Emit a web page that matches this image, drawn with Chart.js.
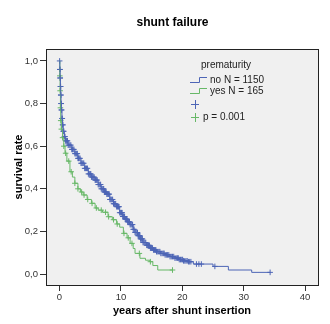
<!DOCTYPE html>
<html>
<head>
<meta charset="utf-8">
<script src="https://cdn.jsdelivr.net/npm/chart.js@4/dist/chart.umd.min.js"></script>
<style>
  body { margin: 0; background: #fff; }
  #wrap { width: 330px; height: 324px; }
</style>
</head>
<body>
<div id="wrap"><canvas id="km" width="330" height="324"></canvas></div>
<script>
// data

let noTimes = [0, 0.05, 0.1, 0.15, 0.2, 0.25, 0.3, 0.4, 0.5, 0.6, 0.8, 1.0, 1.4, 2.0, 2.5, 3.0, 3.5, 4.1, 4.7, 5.2, 5.8, 6.3, 6.8, 7.3, 7.7, 8.2, 8.8, 9.3, 9.8, 10.3, 10.7, 11.1, 11.5, 12.0, 12.3, 12.8, 13.2, 13.6, 14.2, 14.8, 15.3, 15.8, 16.5, 17.2, 18.0, 18.8, 19.5, 20.2, 21.0, 21.8, 25.0, 27.5, 31.3, 34.3];
let noSurvival = [1.0, 0.96, 0.92, 0.88, 0.84, 0.80, 0.77, 0.73, 0.70, 0.67, 0.645, 0.625, 0.605, 0.585, 0.565, 0.543, 0.52, 0.496, 0.47, 0.455, 0.441, 0.42, 0.40, 0.385, 0.375, 0.35, 0.33, 0.316, 0.288, 0.27, 0.258, 0.245, 0.232, 0.21, 0.195, 0.18, 0.165, 0.148, 0.135, 0.122, 0.113, 0.105, 0.097, 0.09, 0.082, 0.075, 0.068, 0.062, 0.058, 0.047, 0.036, 0.019, 0.008, 0.008];

let yesTimes = [0, 0.05, 0.1, 0.15, 0.2, 0.3, 0.5, 0.7, 0.9, 1.2, 1.7, 2.1, 2.5, 3.0, 3.4, 3.85, 4.5, 5.2, 5.8, 6.3, 7.0, 7.9, 8.6, 9.3, 9.8, 10.4, 11.0, 11.5, 12.0, 12.3, 13.1, 14.0, 14.7, 15.2, 16.0, 18.4];
let yesSurvival = [1.0, 0.93, 0.86, 0.78, 0.72, 0.68, 0.64, 0.60, 0.567, 0.53, 0.48, 0.455, 0.426, 0.40, 0.385, 0.371, 0.35, 0.332, 0.31, 0.30, 0.29, 0.269, 0.255, 0.235, 0.22, 0.191, 0.17, 0.144, 0.12, 0.097, 0.074, 0.065, 0.058, 0.04, 0.019, 0.019];

// censored times (the + marks)
let noCensored = [0.02, 0.05, 0.08, 0.1, 0.12, 0.15, 0.18, 0.2, 0.22, 0.25, 0.28, 0.3, 0.35, 0.4, 0.45, 0.5, 0.55, 0.6, 0.7, 0.8, 0.9, 1.0, 1.1, 1.2, 1.3, 1.4, 1.55, 1.7, 1.85, 2.0, 2.1, 2.2, 2.35, 2.5, 2.65, 2.8, 2.9, 3.0, 3.1, 3.2, 3.35, 3.5, 3.65, 3.8, 3.95, 4.1, 4.25, 4.4, 4.55, 4.7, 4.85, 5.0, 5.1, 5.2, 5.35, 5.5, 5.65, 5.8, 5.9, 6.0, 6.15, 6.3, 6.45, 6.6, 6.7, 6.8, 6.95, 7.1, 7.2, 7.3, 7.4, 7.5, 7.6, 7.7, 7.85, 8.0, 8.1, 8.2, 8.35, 8.5, 8.65, 8.8, 8.9, 9.0, 9.15, 9.3, 9.45, 9.6, 9.7, 9.8, 9.95, 10.1, 10.2, 10.3, 10.4, 10.5, 10.6, 10.7, 10.8, 10.9, 11.0, 11.1, 11.2, 11.3, 11.4, 11.5, 11.65, 11.8, 11.9, 12.0, 12.15, 12.3, 12.45, 12.6, 12.7, 12.8, 12.9, 13.0, 13.1, 13.2, 13.3, 13.4, 13.5, 13.6, 13.75, 13.9, 14.05, 14.2, 14.35, 14.5, 14.65, 14.8, 14.9, 15.0, 15.15, 15.3, 15.45, 15.6, 15.7, 15.8, 16.0, 16.2, 16.35, 16.5, 16.7, 16.9, 17.05, 17.2, 17.4, 17.6, 17.8, 18.0, 18.2, 18.4, 18.6, 18.8, 19.0, 19.2, 19.35, 19.5, 19.7, 19.9, 20.05, 20.2, 20.4, 20.6, 20.8, 21.0, 21.2, 21.4, 22.3, 22.7, 23.1, 25.3, 34.3];
let yesCensored = [0.05, 0.1, 0.15, 0.2, 0.3, 0.5, 0.7, 1.0, 1.5, 1.9, 2.5, 3.0, 3.6, 4.0, 4.6, 5.3, 6.0, 6.8, 7.5, 8.0, 8.8, 9.4, 10.5, 11.2, 11.8, 13.0, 14.8, 18.4];

let xTicks = [0, 10, 20, 30, 40];
let yTicks = [0, 0.2, 0.4, 0.6, 0.8, 1.0];

let blue = '#4d65b6';
let green = '#67b867';
let font = 'Arial, "Liberation Sans", sans-serif';

function toPoints(times, vals) {
  return times.map((t, i) => ({ x: t, y: vals[i] }));
}

// value of the step curve at time t
function survivalAt(times, vals, t) {
  let s = vals[0];
  for (let i = 0; i < times.length; i++) {
    if (times[i] <= t) s = vals[i];
  }
  return s;
}

function censorPoints(cens, times, vals) {
  return cens.map(t => ({ x: t, y: survivalAt(times, vals, t) }));
}

// plot background, frame, titles and the legend
const decorPlugin = {
  id: 'decor',
  beforeDraw(chart) {
    let c = chart.ctx;
    let a = chart.chartArea;
    c.save();
    c.fillStyle = '#f0f0f0';
    c.fillRect(a.left, a.top, a.right - a.left, a.bottom - a.top);
    c.restore();
  },
  afterDraw(chart) {
    let c = chart.ctx;
    let a = chart.chartArea;
    c.save();
    c.strokeStyle = '#222';
    c.lineWidth = 1;
    c.strokeRect(a.left + 0.5, a.top + 0.5, a.right - a.left - 1, a.bottom - a.top - 1);

    c.fillStyle = '#000';
    c.textAlign = 'center';
    c.textBaseline = 'middle';
    c.font = 'bold 12px ' + font;
    c.fillText('shunt failure', 172.5, 23);
    c.font = 'bold 11px ' + font;
    c.fillText('years after shunt insertion', 182, 311);
    c.save();
    c.translate(19, 167);
    c.rotate(-Math.PI / 2);
    c.fillText('survival rate', 0, 0);
    c.restore();

    // legend
    c.font = '10px ' + font;
    c.fillStyle = '#222';
    c.textAlign = 'left';
    c.fillText('prematurity', 201, 65);
    c.fillText('no N = 1150', 210, 80);
    c.fillText('yes N = 165', 210, 91);
    c.fillText('p = 0.001', 203, 117);

    c.lineWidth = 1;
    c.strokeStyle = blue;
    c.beginPath();
    c.moveTo(190, 82.5); c.lineTo(199.5, 82.5); c.lineTo(199.5, 77.5); c.lineTo(207, 77.5);
    c.stroke();
    c.strokeStyle = green;
    c.beginPath();
    c.moveTo(190, 93.5); c.lineTo(199.5, 93.5); c.lineTo(199.5, 88.5); c.lineTo(207, 88.5);
    c.stroke();

    c.strokeStyle = blue;
    c.beginPath();
    c.moveTo(191, 104.5); c.lineTo(199, 104.5); c.moveTo(195.5, 100); c.lineTo(195.5, 109);
    c.stroke();
    c.strokeStyle = green;
    c.beginPath();
    c.moveTo(191, 117.5); c.lineTo(199, 117.5); c.moveTo(195.5, 113); c.lineTo(195.5, 122);
    c.stroke();
    c.restore();
  }
};

let ctx = document.getElementById('km');

new Chart(ctx, {
  type: 'line',
  data: {
    datasets: [
      {
        data: toPoints(noTimes, noSurvival),
        borderColor: blue,
        borderWidth: 1,
        stepped: 'before',
        pointRadius: 0,
        fill: false
      },
      {
        data: toPoints(yesTimes, yesSurvival),
        borderColor: green,
        borderWidth: 1,
        stepped: 'before',
        pointRadius: 0,
        fill: false
      },
      {
        type: 'scatter',
        data: censorPoints(noCensored, noTimes, noSurvival),
        borderColor: blue,
        backgroundColor: blue,
        pointStyle: 'cross',
        pointRadius: 2.8,
        borderWidth: 1,
        showLine: false
      },
      {
        type: 'scatter',
        data: censorPoints(yesCensored, yesTimes, yesSurvival),
        borderColor: green,
        backgroundColor: green,
        pointStyle: 'cross',
        pointRadius: 2.8,
        borderWidth: 1,
        showLine: false
      }
    ]
  },
  options: {
    responsive: false,
    animation: false,
    layout: { padding: { top: 49, right: 11, left: 0, bottom: 0 } },
    plugins: {
      legend: { display: false },
      tooltip: { enabled: false }
    },
    scales: {
      x: {
        type: 'linear',
        min: -2.2,
        max: 42.26,
        afterBuildTicks: s => { s.ticks = xTicks.map(v => ({ value: v })); },
        afterFit: s => { s.height = 38; },
        ticks: { font: { size: 9.5, family: font }, color: '#333', padding: 1 },
        grid: { drawOnChartArea: false, tickLength: 5, color: '#333' },
        border: { display: false }
      },
      y: {
        type: 'linear',
        min: -0.056,
        max: 1.056,
        afterBuildTicks: s => { s.ticks = yTicks.map(v => ({ value: v })); },
        afterFit: s => { s.width = 46; },
        ticks: {
          font: { size: 9.5, family: font },
          color: '#333',
          padding: 2,
          callback: v => v.toFixed(1).replace('.', ',')
        },
        grid: { drawOnChartArea: false, tickLength: 6, color: '#333' },
        border: { display: false }
      }
    }
  },
  plugins: [decorPlugin]
});
</script>
</body>
</html>
